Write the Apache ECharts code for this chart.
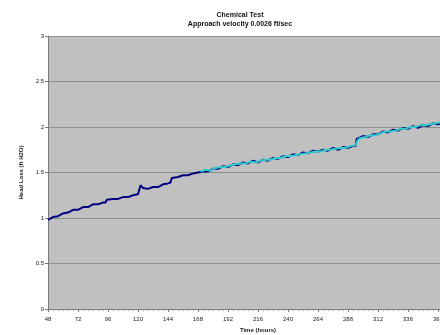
<!DOCTYPE html>
<html>
<head>
<meta charset="utf-8">
<script src="https://cdn.jsdelivr.net/npm/echarts@6.0.0/dist/echarts.min.js"></script>
<style>
  html, body { margin: 0; padding: 0; background: #fff; }
  #chart { width: 440px; height: 335px; }
</style>
</head>
<body>
<div id="chart"></div>
<script>
// time (hours) for the dark run
const hoursA = [48, 52, 56, 60, 64, 68, 72, 76, 80, 84, 88, 92, 94, 95, 100, 104, 108, 112, 116, 120,
  121, 122, 124, 128, 132, 136, 140, 144, 146, 147, 152, 156, 160, 164, 168, 172, 176, 180, 184, 188,
  192, 196, 200, 204, 208, 212, 216, 220, 224, 228, 232, 236, 240, 244, 248, 252, 256, 260, 264, 268,
  272, 276, 280, 284, 288, 292, 294, 295, 300, 304, 308, 312, 316, 320, 324, 328, 332, 336, 340, 344,
  348, 352, 356, 360, 364];
// head loss (ft H2O), dark run
const headA = [0.98, 1.01, 1.02, 1.05, 1.06, 1.09, 1.09, 1.12, 1.12, 1.15, 1.15, 1.17, 1.17, 1.20,
  1.21, 1.21, 1.23, 1.23, 1.25, 1.26, 1.26, 1.36, 1.33, 1.32, 1.34, 1.34, 1.37, 1.38, 1.39, 1.44,
  1.45, 1.47, 1.47, 1.49, 1.50, 1.51, 1.51, 1.54, 1.54, 1.57, 1.56, 1.59, 1.58, 1.61, 1.60, 1.63,
  1.61, 1.64, 1.63, 1.66, 1.65, 1.68, 1.67, 1.70, 1.69, 1.72, 1.71, 1.74, 1.73, 1.75, 1.74, 1.77,
  1.75, 1.78, 1.77, 1.79, 1.79, 1.87, 1.90, 1.89, 1.92, 1.92, 1.95, 1.94, 1.97, 1.96, 1.99, 1.98,
  2.01, 1.99, 2.02, 2.01, 2.04, 2.03, 2.05];
// cyan run
const hoursB = [170, 174, 178, 182, 186, 190, 194, 198, 202, 206, 210, 214, 218, 222, 226, 230,
  234, 238, 242, 246, 250, 254, 258, 262, 266, 270, 274, 278, 282, 286, 290, 294, 296, 298, 302, 306,
  310, 314, 318, 322, 326, 330, 334, 338, 342, 346, 350, 354, 358, 362, 366];
const headB = [1.51, 1.53, 1.52, 1.55, 1.56, 1.56, 1.58, 1.59, 1.60, 1.60, 1.62, 1.61, 1.63, 1.64,
  1.64, 1.66, 1.66, 1.68, 1.68, 1.69, 1.70, 1.71, 1.72, 1.73, 1.73, 1.75, 1.75, 1.76, 1.77, 1.77,
  1.79, 1.80, 1.86, 1.88, 1.89, 1.91, 1.91, 1.93, 1.95, 1.95, 1.96, 1.98, 1.98, 2.00, 2.00, 2.02,
  2.02, 2.03, 2.04, 2.05, 2.06];
const xTicks = { min: 48, max: 384, step: 24 };
const yTicks = { min: 0, max: 3, step: 0.5 };

const chart = echarts.init(document.getElementById('chart'));

const labelFont = { fontFamily: 'Liberation Sans', fontSize: 6, color: '#222' };

chart.setOption({
  animation: false,
  backgroundColor: '#fff',
  title: {
    text: 'Chemical Test',
    subtext: 'Approach velocity 0.0026 ft/sec',
    left: 235,
    top: 7,
    textAlign: 'center',
    itemGap: 2,
    textStyle: { fontFamily: 'Liberation Sans', fontSize: 7, fontWeight: 'bold', color: '#111' },
    subtextStyle: { fontFamily: 'Liberation Sans', fontSize: 7, fontWeight: 'bold', color: '#111' },
  },
  grid: {
    left: 48,
    top: 36,
    width: 420,
    bottom: 26,
    outerBoundsMode: 'none',
    show: true,
    backgroundColor: '#c0c0c0',
    borderWidth: 0,
  },
  xAxis: {
    type: 'value',
    min: xTicks.min,
    max: xTicks.max,
    interval: xTicks.step,
    name: 'Time (hours)',
    nameLocation: 'middle',
    nameGap: 17,
    nameTextStyle: { ...labelFont, fontWeight: 'bold' },
    axisLine: { lineStyle: { color: '#7a7a7a', width: 1 } },
    axisTick: { show: true, length: 3, inside: false, lineStyle: { color: '#7a7a7a' } },
    minorTick: { show: true, splitNumber: 6, length: 2, lineStyle: { color: '#9a9a9a' } },
    axisLabel: { ...labelFont, margin: 7, showMaxLabel: false },
    splitLine: { show: false },
  },
  yAxis: {
    type: 'value',
    min: yTicks.min,
    max: yTicks.max,
    interval: yTicks.step,
    name: 'Head Loss (ft H2O)',
    nameLocation: 'middle',
    nameGap: 15,
    nameTextStyle: { ...labelFont, fontWeight: 'bold' },
    axisLine: { show: true, lineStyle: { color: '#7a7a7a', width: 1 } },
    axisTick: { show: true, length: 3, lineStyle: { color: '#7a7a7a' } },
    axisLabel: { ...labelFont, margin: 4 },
    splitLine: { show: true, lineStyle: { color: '#8e8e8e', width: 1 } },
  },
  series: [
    {
      name: 'Run A',
      type: 'line',
      data: hoursA.map((t, i) => [t, headA[i]]),
      symbol: 'none',
      lineStyle: { color: '#000080', width: 2 },
      z: 2,
    },
    {
      name: 'Run B',
      type: 'line',
      data: hoursB.map((t, i) => [t, headB[i]]),
      symbol: 'none',
      lineStyle: { color: '#33cccc', width: 2 },
      z: 3,
    },
  ],
});
</script>
</body>
</html>
